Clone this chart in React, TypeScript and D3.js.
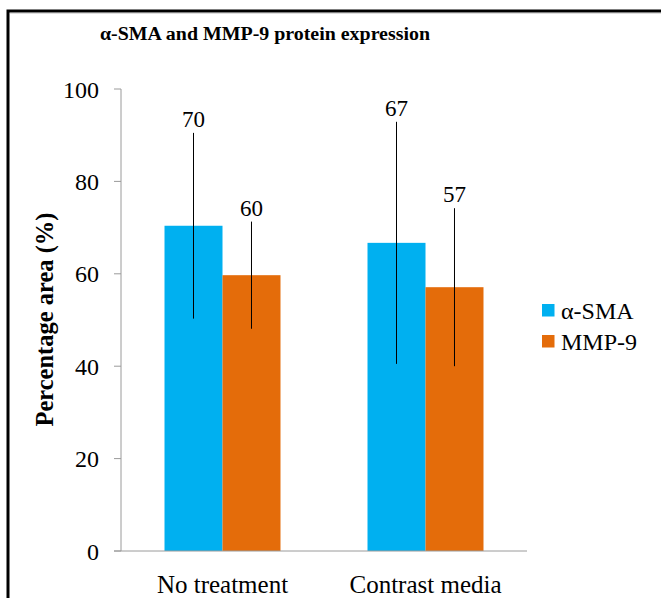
import React from "react";
import * as d3 from "d3";

const categories = ["No treatment", "Contrast media"];
const seriesNames = ["α-SMA", "MMP-9"];
const seriesColors = ["#00B0F0", "#E46C0A"];
const values = [
  [70.4, 66.7],
  [59.7, 57.1],
];
const errors = [
  [20.1, 26.2],
  [11.6, 17.1],
];
const dataLabels = [
  ["70", "67"],
  ["60", "57"],
];
const yTicks = [0, 20, 40, 60, 80, 100];
const title = "α-SMA and MMP-9 protein expression";
const yTitle = "Percentage area (%)";

const W = 661;
const H = 598;
const FONT = "Liberation Serif";

export default function App() {
  const y = d3.scaleLinear().domain([0, 100]).range([551, 89]);
  const x0 = d3
    .scaleBand<string>()
    .domain(categories)
    .range([121, 527])
    .paddingInner(0.4286)
    .paddingOuter(0.2143);
  const x1 = d3
    .scaleBand<string>()
    .domain(seriesNames)
    .range([0, x0.bandwidth()])
    .padding(0);
  const axisColor = "#9a9a9a";

  return (
    <svg
      width={W}
      height={H}
      style={{ position: "absolute", left: 0, top: 0, background: "#fff" }}
    >
      <rect x={0} y={0} width={W} height={H} fill="#fff" />
      {/* outer frame */}
      <rect x={8} y={11} width={W + 20} height={H + 20} fill="none" stroke="#000" strokeWidth={3} />
      <line x1={10} x2={W} y1={13.5} y2={13.5} stroke="#ddd" strokeWidth={1} />

      {/* title */}
      <text
        x={265}
        y={40}
        textAnchor="middle"
        fontFamily={FONT}
        fontWeight="bold"
        fontSize={18.5}
        textLength={330}
        lengthAdjust="spacingAndGlyphs"
      >
        {title}
      </text>

      {/* y axis */}
      <line x1={121} x2={121} y1={y(100)} y2={y(0)} stroke={axisColor} strokeWidth={1} />
      {yTicks.map((t) => (
        <g key={t}>
          <line x1={114} x2={121} y1={y(t)} y2={y(t)} stroke={axisColor} strokeWidth={1} />
          <text x={99} y={y(t) + 8.5} textAnchor="end" fontFamily={FONT} fontSize={24}>
            {t}
          </text>
        </g>
      ))}

      {/* y title */}
      <text
        transform={`translate(53,319.5) rotate(-90)`}
        textAnchor="middle"
        fontFamily={FONT}
        fontWeight="bold"
        fontSize={24.5}
      >
        {yTitle}
      </text>

      {/* bars */}
      {categories.map((c, ci) => (
        <g key={c} transform={`translate(${x0(c)},0)`}>
          {seriesNames.map((s, si) => {
            const v = values[si][ci];
            const bx = x1(s) as number;
            const bw = x1.bandwidth();
            return (
              <rect
                key={s}
                x={bx}
                y={y(v)}
                width={bw}
                height={y(0) - y(v)}
                fill={seriesColors[si]}
              />
            );
          })}
        </g>
      ))}

      {/* x axis */}
      <line x1={114} x2={527} y1={y(0)} y2={y(0)} stroke={axisColor} strokeWidth={1} />

      {/* error bars + labels */}
      {categories.map((c, ci) => (
        <g key={c} transform={`translate(${x0(c)},0)`}>
          {seriesNames.map((s, si) => {
            const v = values[si][ci];
            const e = errors[si][ci];
            const cx = (x1(s) as number) + x1.bandwidth() / 2;
            return (
              <g key={s}>
                <line
                  x1={cx}
                  x2={cx}
                  y1={y(v + e)}
                  y2={y(v - e)}
                  stroke="#000"
                  strokeWidth={1}
                />
                <text
                  x={cx}
                  y={y(v + e) - 6}
                  textAnchor="middle"
                  fontFamily={FONT}
                  fontSize={23}
                >
                  {dataLabels[si][ci]}
                </text>
              </g>
            );
          })}
        </g>
      ))}

      {/* category labels */}
      {categories.map((c) => (
        <text
          key={c}
          x={(x0(c) as number) + x0.bandwidth() / 2}
          y={593}
          textAnchor="middle"
          fontFamily={FONT}
          fontSize={25}
        >
          {c}
        </text>
      ))}

      {/* legend */}
      {seriesNames.map((s, si) => (
        <g key={s} transform={`translate(542,${304 + si * 31})`}>
          <rect x={0} y={0} width={12.5} height={12.5} fill={seriesColors[si]} />
          <text x={19} y={15} fontFamily={FONT} fontSize={24}>
            {s}
          </text>
        </g>
      ))}
    </svg>
  );
}
